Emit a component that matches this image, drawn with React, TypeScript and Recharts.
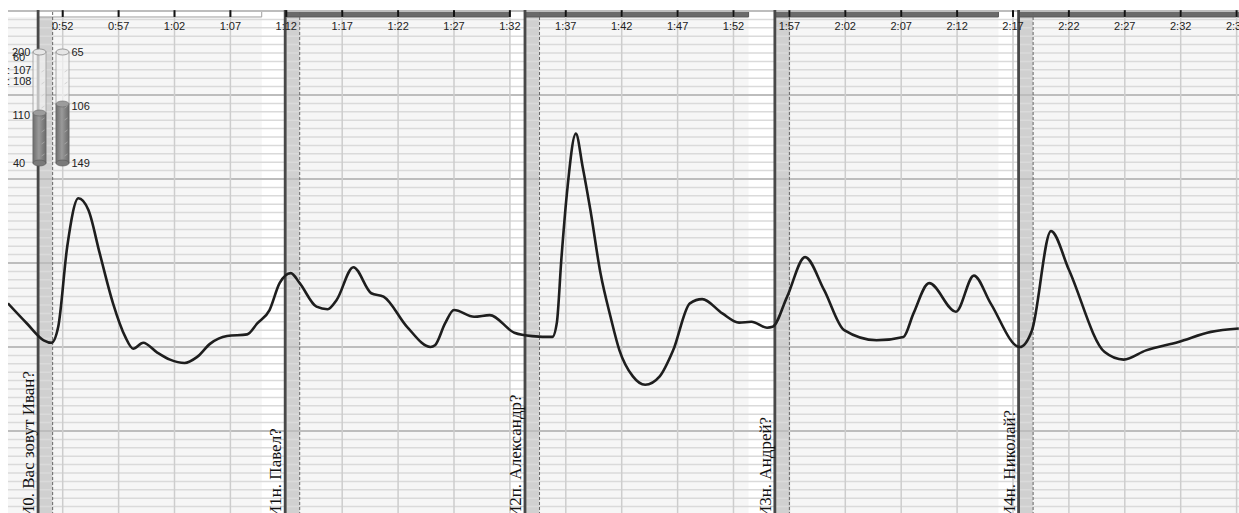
import React from 'react';
import { LineChart, Line, XAxis, YAxis, ReferenceArea, ReferenceLine } from 'recharts';

// seconds from start of record
const seconds = [
  47.1, 48.8, 50.3, 51.0, 51.6, 52.4, 53.4, 54.3, 55.3, 56.5, 57.6, 58.3, 59.2, 60.4, 61.6, 62.9,
  64.0, 65.2, 66.7, 68.5, 69.4, 70.5, 71.4, 72.4, 73.2, 74.7, 75.7, 76.5, 78.0, 79.6, 80.7, 82.8,
  84.9, 85.3, 86.2, 87.0, 88.8, 90.2, 92.4, 94.0, 95.8, 96.2, 96.6, 97.1, 97.9, 98.5, 99.2, 100.1,
  101.0, 101.8, 103.0, 104.1, 105.4, 106.6, 108.1, 109.2, 111.0, 112.5, 113.6, 115.0, 115.5, 116.8,
  118.4, 120.1, 121.9, 124.8, 127.2, 128.1, 129.5, 131.9, 133.5, 135.0, 137.6, 138.7, 140.4, 142.0,
  145.2, 146.9, 148.9, 151.8, 154.7, 157.2,
];

// skin response (grid units)
const response = [
  25.2, 22.8, 20.8, 20.5, 22.4, 31.9, 37.7, 36.3, 31.2, 25.2, 21.2, 19.8, 20.5, 19.4, 18.5, 18.1,
  18.8, 20.4, 21.3, 21.5, 22.8, 24.4, 27.6, 28.8, 27.6, 24.8, 24.5, 25.6, 29.5, 26.4, 26.0, 22.4,
  20.0, 20.2, 22.8, 24.4, 23.6, 23.8, 21.7, 21.3, 21.2, 22.9, 30.4, 38.3, 45.4, 41.5, 36.3, 28.8,
  23.6, 19.6, 16.5, 15.5, 16.5, 19.6, 25.2, 25.7, 24.0, 22.9, 23.0, 22.3, 22.4, 26.0,
  30.7, 26.8, 22.0, 20.8, 21.2, 24.0, 27.6, 24.2, 28.5, 25.2, 20.0, 22.0, 33.8, 29.2,
  19.4, 18.5, 19.6, 20.6, 21.8, 22.2,
];

const questionStarts = [49.8, 71.9, 93.35, 115.7, 137.5];
const questionLabels = [
  'И0. Вас зовут Иван?',
  'И1н. Павел?',
  'И2п. Александр?',
  'И3н. Андрей?',
  'И4н. Николай?',
];

const tickSeconds = [
  52, 57, 62, 67, 72, 77, 82, 87, 92, 97, 102, 107, 112, 117, 122, 127, 132, 137, 142, 147, 152, 157,
];

const gaugeLeftLabels = ['200', '60', ': 107', ': 108', '110', '40'];
const gaugeRightLabels = ['65', '106', '149'];

const data = seconds.map((t, i) => ({ t, v: response[i] }));

const X_MIN = 47.107;
const X_MAX = 157.215;
const Y_MAX = 60.119;
const BAND = 1.3;
const WINDOW = 20;
const STRIP_LO = 59.29;
const STRIP_HI = 60.1;

const minorLines = Array.from({ length: 61 }, (_, i) => i).filter((v) => v % 10 !== 0);
const majorLines = [0, 10, 20, 30, 40, 50, 60];

const fmt = (s: number) => `${Math.floor(s / 60)}:${String(s % 60).padStart(2, '0')}`;

const sans = 'Liberation Sans, Arial, sans-serif';

const timeLabel = (t: number) => (props: any) => {
  const vb = props.viewBox || {};
  return (
    <text x={vb.x} y={30} textAnchor="middle" fontSize={11} fontFamily={sans} fill="#222">
      {fmt(t)}
    </text>
  );
};

const questionLabel = (text: string) => (props: any) => {
  const vb = props.viewBox || {};
  const x = vb.x - 4;
  const y = (vb.y || 0) + (vb.height || 0) + 3;
  return (
    <text
      x={x}
      y={y}
      transform={`rotate(-90 ${x} ${y})`}
      textAnchor="start"
      fontSize={17}
      fontFamily="Liberation Serif, Times New Roman, serif"
      fill="#111"
    >
      {text}
    </text>
  );
};

const Cylinder = ({ cx, fillTop }: { cx: number; fillTop: number }) => {
  const top = 52;
  const bottom = 163;
  const rx = 6.5;
  const ry = 3;
  return (
    <g>
      <rect x={cx - rx} y={top} width={rx * 2} height={bottom - top} fill="#f4f4f4" fillOpacity={0.7} stroke="#9a9a9a" strokeWidth={0.8} />
      <rect x={cx - rx} y={fillTop} width={rx * 2} height={bottom - fillTop} fill="url(#cylFill)" stroke="#666" strokeWidth={0.6} />
      <ellipse cx={cx} cy={bottom} rx={rx} ry={ry} fill="#7a7a7a" stroke="#555" strokeWidth={0.6} />
      <ellipse cx={cx} cy={fillTop} rx={rx} ry={ry} fill="#9c9c9c" stroke="#666" strokeWidth={0.6} />
      <ellipse cx={cx} cy={top} rx={rx} ry={ry} fill="#e6e6e6" stroke="#888" strokeWidth={0.8} />
      {[70, 82, 94, 106, 118, 130, 142, 154].map((yy) => (
        <line key={yy} x1={cx + 2} y1={yy + 2} x2={cx + 5} y2={yy} stroke={yy > fillTop ? '#aaa' : '#ccc'} strokeWidth={0.8} />
      ))}
    </g>
  );
};

const Gauge = () => (
  <g>
    <defs>
      <linearGradient id="cylFill" x1="0" y1="0" x2="1" y2="0">
        <stop offset="0" stopColor="#6e6e6e" />
        <stop offset="0.45" stopColor="#9a9a9a" />
        <stop offset="1" stopColor="#6a6a6a" />
      </linearGradient>
    </defs>
    <Cylinder cx={39.5} fillTop={113} />
    <Cylinder cx={62.5} fillTop={104} />
    <g fontSize={11} fontFamily={sans} fill="#222">
      <text x={12} y={56}>{gaugeLeftLabels[0]}</text>
      <text x={13} y={61}>{gaugeLeftLabels[1]}</text>
      <text x={7} y={74}>{gaugeLeftLabels[2]}</text>
      <text x={7} y={85}>{gaugeLeftLabels[3]}</text>
      <text x={12.5} y={119}>{gaugeLeftLabels[4]}</text>
      <text x={13} y={167}>{gaugeLeftLabels[5]}</text>
      <text x={71.5} y={56}>{gaugeRightLabels[0]}</text>
      <text x={71.5} y={110}>{gaugeRightLabels[1]}</text>
      <text x={71.5} y={167}>{gaugeRightLabels[2]}</text>
    </g>
  </g>
);

export default function App() {
  return (
    <div style={{ position: 'absolute', left: 0, top: 0, width: 1239, height: 530, background: '#fff' }}>
      <LineChart width={1239} height={530} data={data} margin={{ top: 10, right: 0, bottom: 15, left: 8 }}>
        <YAxis type="number" domain={[0, Y_MAX]} hide allowDataOverflow />
        <XAxis dataKey="t" type="number" domain={[X_MIN, X_MAX]} hide allowDataOverflow />

        {/* soft background for answer windows */}
        <ReferenceArea x1={X_MIN} x2={questionStarts[0]} fill="#f6f6f6" fillOpacity={1} ifOverflow="hidden" />
        {questionStarts.map((q) => (
          <ReferenceArea key={`bg${q}`} x1={q} x2={q + WINDOW} fill="#f6f6f6" fillOpacity={1} ifOverflow="hidden" />
        ))}

        {minorLines.map((v) => (
          <ReferenceLine key={`mi${v}`} y={v} stroke="#dadada" strokeWidth={1.5} />
        ))}
        {majorLines.map((v) => (
          <ReferenceLine key={`ma${v}`} y={v} stroke="#bdbdbd" strokeWidth={2} />
        ))}
        {tickSeconds.map((t) => (
          <ReferenceLine key={`vx${t}`} x={t} stroke="#cdcdcd" strokeWidth={1.5} />
        ))}

        {/* question markers */}
        {questionStarts.map((q) => (
          <ReferenceArea key={`band${q}`} x1={q} x2={q + BAND} fill="#d0d0d0" fillOpacity={1} ifOverflow="hidden" />
        ))}
        {questionStarts.map((q) => (
          <ReferenceLine key={`dash${q}`} x={q + BAND} stroke="#666" strokeWidth={1} strokeDasharray="3 2" />
        ))}
        {questionStarts.map((q, i) => (
          <ReferenceLine key={`q${q}`} x={q} stroke="#484848" strokeWidth={2.8} label={questionLabel(questionLabels[i])} />
        ))}

        {/* top strip */}
        <ReferenceArea x1={X_MIN} x2={X_MAX} y1={STRIP_LO} y2={STRIP_HI} fill="#fff" fillOpacity={1} ifOverflow="hidden" />
        {questionStarts.map((q, i) => (
          <ReferenceArea
            key={`strip${q}`}
            x1={q}
            x2={q + WINDOW}
            y1={STRIP_LO}
            y2={STRIP_HI}
            fill={i === 0 ? '#ffffff' : '#6a6a6a'}
            fillOpacity={1}
            stroke={i === 0 ? '#a0a0a0' : '#5a5a5a'}
            strokeWidth={1}
            ifOverflow="hidden"
          />
        ))}
        {tickSeconds.map((t) => (
          <ReferenceLine
            key={`tk${t}`}
            segment={[{ x: t, y: STRIP_LO }, { x: t, y: STRIP_HI }]}
            stroke="#111"
            strokeWidth={2}
            label={timeLabel(t)}
          />
        ))}

        <Line
          type="monotone"
          dataKey="v"
          stroke="#1e1e1e"
          strokeWidth={2.6}
          dot={false}
          activeDot={false}
          isAnimationActive={false}
        />

        <ReferenceLine x={X_MIN + 0.01} stroke="none" label={() => <Gauge />} />
      </LineChart>
    </div>
  );
}
